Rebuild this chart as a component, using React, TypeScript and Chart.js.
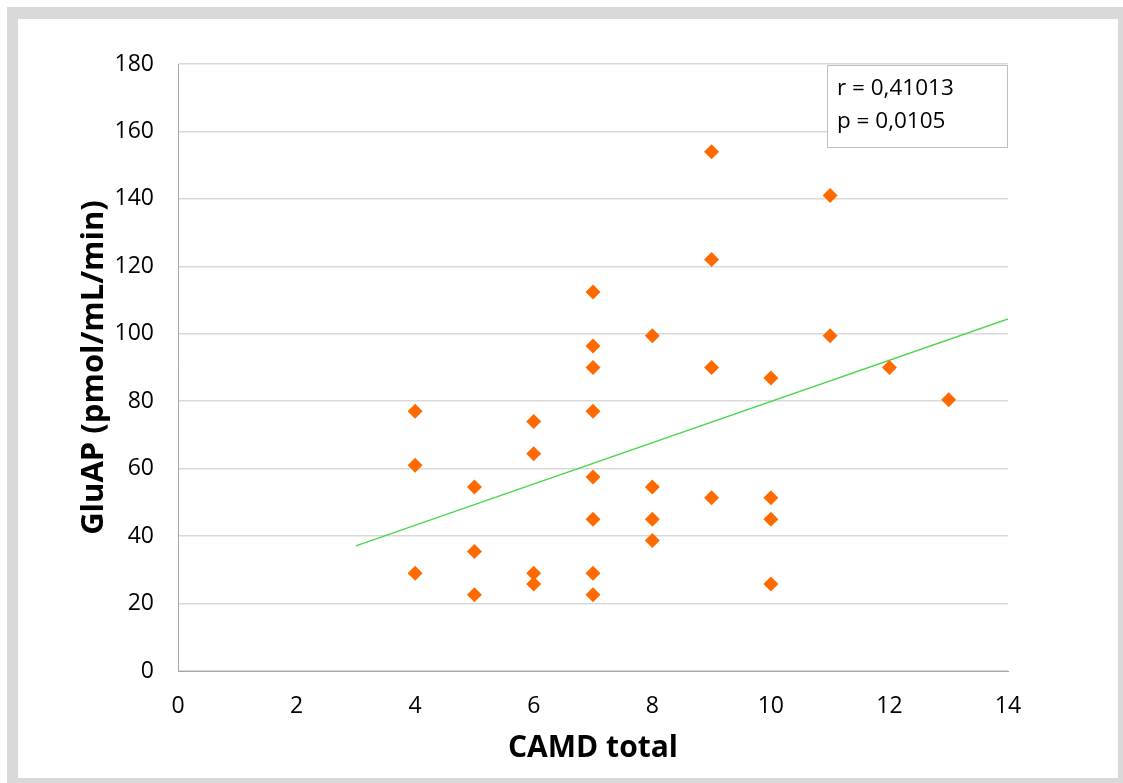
import React, { useEffect, useRef } from "react";
import { Chart, registerables } from "chart.js";

Chart.register(...registerables);

const xValues = [4, 4, 4, 5, 5, 5, 6, 6, 6, 6, 7, 7, 7, 7, 7, 7, 7, 7, 8, 8, 8, 8, 9, 9, 9, 9, 10, 10, 10, 10, 11, 11, 12, 13];
const yValues = [77, 61, 29, 54.6, 35.4, 22.6, 74, 64.4, 29, 25.8, 112.4, 96.4, 90, 77, 57.5, 45, 29, 22.6, 99.4, 54.6, 45, 38.7, 154, 122, 90, 51.4, 86.9, 51.4, 45, 25.8, 141, 99.4, 90, 80.4];
const trendX = [3, 14];
const trendY = [37.1, 104.4];
const yTicks = [0, 20, 40, 60, 80, 100, 120, 140, 160, 180];
const xTicks = [0, 2, 4, 6, 8, 10, 12, 14];
const statLines = ["r = 0,41013", "p = 0,0105"];

const FONT = "'Open Sans', 'Noto Sans', sans-serif";

const statBoxPlugin = {
  id: "statBox",
  afterDraw(chart: any) {
    const { ctx } = chart;
    const xs = chart.scales.x;
    const left = 827;
    const top = 65;
    const right = xs.right;
    const bottom = 148;
    ctx.save();
    ctx.fillStyle = "#ffffff";
    ctx.fillRect(left, top, right - left, bottom - top);
    ctx.strokeStyle = "#bfbfbf";
    ctx.lineWidth = 1;
    ctx.strokeRect(left + 0.5, top + 0.5, right - left - 1, bottom - top - 1);
    ctx.fillStyle = "#000000";
    ctx.font = `22.5px ${FONT}`;
    ctx.textBaseline = "middle";
    ctx.textAlign = "left";
    statLines.forEach((t, i) => {
      ctx.fillText(t, 837, 89 + i * 33);
    });
    ctx.restore();
  },
};

export default function App() {
  const canvasRef = useRef<HTMLCanvasElement | null>(null);

  useEffect(() => {
    if (!canvasRef.current) return;
    const chart = new Chart(canvasRef.current, {
      type: "scatter",
      data: {
        datasets: [
          {
            type: "line",
            label: "trend",
            data: trendX.map((x, i) => ({ x, y: trendY[i] })),
            borderColor: "#4fd64f",
            borderWidth: 1.5,
            pointRadius: 0,
            fill: false,
            order: 2,
          } as any,
          {
            type: "scatter",
            label: "GluAP",
            data: xValues.map((x, i) => ({ x, y: yValues[i] })),
            pointStyle: "rectRot",
            pointRadius: 7.5,
            pointHoverRadius: 7.5,
            backgroundColor: "#ff6a00",
            borderColor: "#ff6a00",
            borderWidth: 0,
            order: 1,
          },
        ],
      },
      options: {
        animation: false,
        responsive: false,
        maintainAspectRatio: false,
        layout: { padding: { top: 64, right: 115, left: 0, bottom: 0 } },
        plugins: {
          legend: { display: false },
          tooltip: { enabled: false },
        },
        scales: {
          x: {
            type: "linear",
            min: 0,
            max: 14,
            afterBuildTicks: (s: any) => {
              s.ticks = xTicks.map((v) => ({ value: v }));
            },
            afterFit: (s: any) => {
              s.height = 112;
            },
            grid: { display: false, drawTicks: false },
            border: { display: true, color: "#a6a6a6", width: 1 },
            ticks: {
              padding: 22,
              color: "#000000",
              font: { family: FONT, size: 23 },
            },
            title: {
              display: true,
              text: "CAMD total",
              color: "#000000",
              font: { family: FONT, size: 30, weight: "bold" },
              padding: { top: 0, bottom: 17 },
            },
          },
          y: {
            type: "linear",
            min: 0,
            max: 180,
            afterBuildTicks: (s: any) => {
              s.ticks = yTicks.map((v) => ({ value: v }));
            },
            afterFit: (s: any) => {
              s.width = 178;
            },
            grid: { display: true, color: "#d9d9d9", lineWidth: 1.5, drawTicks: false },
            border: { display: true, color: "#a6a6a6", width: 1 },
            ticks: {
              padding: 24,
              color: "#000000",
              font: { family: FONT, size: 23 },
            },
            title: {
              display: true,
              text: "GluAP (pmol/mL/min)",
              color: "#000000",
              font: { family: FONT, size: 31, weight: "bold" },
              padding: { top: 76, bottom: 0 },
            },
          },
        },
      },
      plugins: [statBoxPlugin],
    } as any);
    return () => chart.destroy();
  }, []);

  return (
    <div style={{ position: "absolute", left: 0, top: 0, width: 1123, height: 783, background: "#ffffff", overflow: "hidden" }}>
      <div style={{ position: "absolute", left: 7, top: 7, width: 1116, height: 776, background: "#d9d9d9" }} />
      <div style={{ position: "absolute", left: 18, top: 19, width: 1100, height: 759, background: "#ffffff" }} />
      <canvas ref={canvasRef} width={1123} height={783} style={{ position: "absolute", left: 0, top: 0, width: 1123, height: 783 }} />
    </div>
  );
}
